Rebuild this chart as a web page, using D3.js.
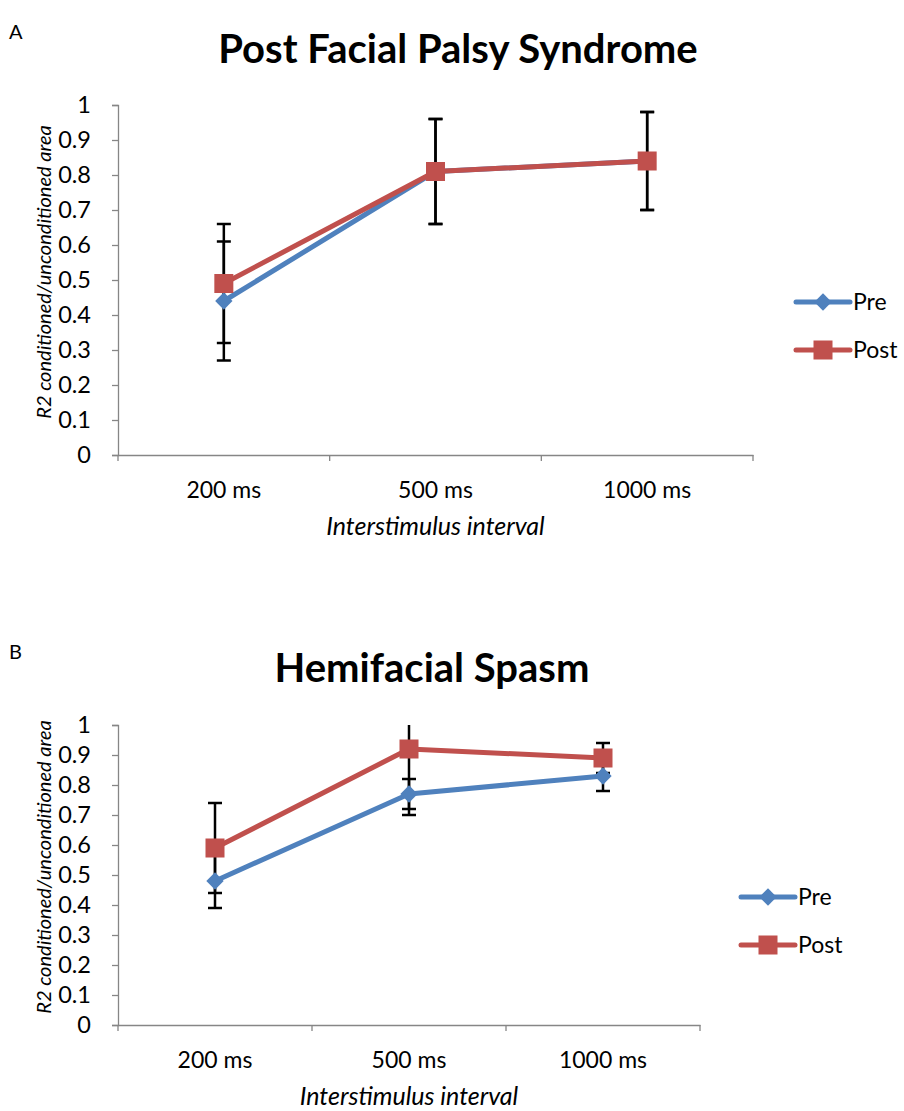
<!DOCTYPE html>
<html>
<head>
<meta charset="utf-8">
<script src="https://cdn.jsdelivr.net/npm/d3@7"></script>
<style>
  body { margin: 0; background: #fff; }
  svg text { font-family: Lato, "Open Sans", sans-serif; fill: #000; }
</style>
</head>
<body>
<div id="chart"></div>
<script>
// dados
const categories = ["200 ms", "500 ms", "1000 ms"];
const yTicks = [0, 0.1, 0.2, 0.3, 0.4, 0.5, 0.6, 0.7, 0.8, 0.9, 1];
const seriesNames = ["Pre", "Post"];

const palsyPre = [0.44, 0.81, 0.84];
const palsyPreErr = [0.17, 0.15, 0.14];
const palsyPost = [0.49, 0.81, 0.84];
const palsyPostErr = [0.17, 0.15, 0.14];

const spasmPre = [0.48, 0.77, 0.83];
const spasmPreErr = [0.09, 0.05, 0.05];
const spasmPost = [0.59, 0.92, 0.89];
const spasmPostErr = [0.15, 0.22, 0.05];

const colors = { Pre: "#4F81BD", Post: "#C0504D" };

const svg = d3.select("#chart").append("svg")
  .attr("width", 904).attr("height", 1111);

function drawPanel(opt) {
  const g = svg.append("g");
  const x = d3.scaleBand().domain(categories).range([opt.left, opt.right]);
  const y = d3.scaleLinear().domain([0, 1]).range([opt.bottom, opt.top]);

  // letra do painel
  g.append("text").attr("x", 9).attr("y", opt.letterY)
    .attr("font-size", 20).text(opt.letter);

  // título
  g.append("text").attr("x", opt.titleX).attr("y", opt.titleY)
    .attr("text-anchor", "middle").attr("font-size", 40).attr("font-weight", "bold")
    .text(opt.title);

  // eixo y
  const yAxis = g.append("g").attr("transform", `translate(${opt.left},0)`)
    .call(d3.axisLeft(y).tickValues(yTicks).tickSize(6).tickFormat(d3.format("")));
  yAxis.select(".domain").attr("stroke", "#868686").attr("stroke-width", 1.3);
  yAxis.selectAll(".tick line").attr("stroke", "#868686").attr("stroke-width", 1.3);
  yAxis.selectAll(".tick text").attr("font-size", 23.5).attr("x", -27).attr("fill", "#000");

  // eixo x
  const xAxis = g.append("g").attr("transform", `translate(0,${opt.bottom})`)
    .call(d3.axisBottom(x).tickSize(0).tickSizeOuter(0));
  xAxis.select(".domain").attr("stroke", "#868686").attr("stroke-width", 1.3);
  xAxis.selectAll(".tick text").attr("font-size", 23).attr("dy", "1.75em").attr("fill", "#000");
  const bounds = [opt.left].concat(categories.map(c => x(c) + x.bandwidth()));
  g.selectAll(".xtick").data(bounds).enter().append("line")
    .attr("x1", d => d).attr("x2", d => d)
    .attr("y1", opt.bottom).attr("y2", opt.bottom + 6)
    .attr("stroke", "#868686").attr("stroke-width", 1.3);

  // títulos dos eixos
  g.append("text").attr("x", (opt.left + opt.right) / 2).attr("y", opt.bottom + 80)
    .attr("text-anchor", "middle").attr("font-size", 25).attr("font-style", "italic")
    .text("Interstimulus interval");
  g.append("text")
    .attr("transform", `translate(51,${(opt.top + opt.bottom) / 2 - 8}) rotate(-90)`)
    .attr("text-anchor", "middle").attr("font-size", 20).attr("font-style", "italic")
    .text("R2 conditioned/unconditioned area");

  const cx = c => x(c) + x.bandwidth() / 2;
  const clip = v => Math.max(0, Math.min(1, v));

  // barras de erro
  opt.series.forEach(s => {
    s.values.forEach((v, i) => {
      const c = categories[i];
      const hi = v + s.err[i], lo = v - s.err[i];
      g.append("line").attr("x1", cx(c)).attr("x2", cx(c))
        .attr("y1", y(clip(hi))).attr("y2", y(clip(lo)))
        .attr("stroke", "#000").attr("stroke-width", 2.5);
      [hi, lo].forEach(e => {
        if (e > 1 || e < 0) return;
        g.append("line").attr("x1", cx(c) - 7).attr("x2", cx(c) + 7)
          .attr("y1", y(e)).attr("y2", y(e))
          .attr("stroke", "#000").attr("stroke-width", 2.5);
      });
    });
  });

  // linhas e marcadores
  const line = d3.line().x((d, i) => cx(categories[i])).y(d => y(d));
  opt.series.forEach(s => {
    g.append("path").datum(s.values).attr("d", line)
      .attr("fill", "none").attr("stroke", colors[s.name]).attr("stroke-width", 5)
      .attr("stroke-linejoin", "round");
    s.values.forEach((v, i) => {
      drawMarker(g, s.name, cx(categories[i]), y(v));
    });
  });

  // legenda
  seriesNames.forEach((n, i) => {
    const ly = opt.legendY + i * 48;
    g.append("line").attr("x1", opt.legendX).attr("x2", opt.legendX + 54)
      .attr("y1", ly).attr("y2", ly)
      .attr("stroke", colors[n]).attr("stroke-width", 5).attr("stroke-linecap", "round");
    drawMarker(g, n, opt.legendX + 27, ly);
    g.append("text").attr("x", opt.legendX + 57).attr("y", ly + 8)
      .attr("font-size", 23).text(n);
  });
}

function drawMarker(g, name, px, py) {
  if (name === "Pre") {
    g.append("path").attr("d", d3.symbol(d3.symbolSquare, 150)())
      .attr("transform", `translate(${px},${py}) rotate(45)`)
      .attr("fill", colors.Pre);
  } else {
    g.append("rect").attr("x", px - 9.5).attr("y", py - 9.5)
      .attr("width", 19).attr("height", 19).attr("fill", colors.Post);
  }
}

drawPanel({
  letter: "A", letterY: 39, title: "Post Facial Palsy Syndrome", titleX: 458, titleY: 63,
  left: 118, right: 753, top: 105, bottom: 455,
  legendX: 796, legendY: 302,
  series: [
    { name: "Pre", values: palsyPre, err: palsyPreErr },
    { name: "Post", values: palsyPost, err: palsyPostErr }
  ]
});

drawPanel({
  letter: "B", letterY: 659, title: "Hemifacial Spasm", titleX: 432, titleY: 682,
  left: 118, right: 700, top: 725, bottom: 1025,
  legendX: 741, legendY: 897,
  series: [
    { name: "Pre", values: spasmPre, err: spasmPreErr },
    { name: "Post", values: spasmPost, err: spasmPostErr }
  ]
});
</script>
</body>
</html>
